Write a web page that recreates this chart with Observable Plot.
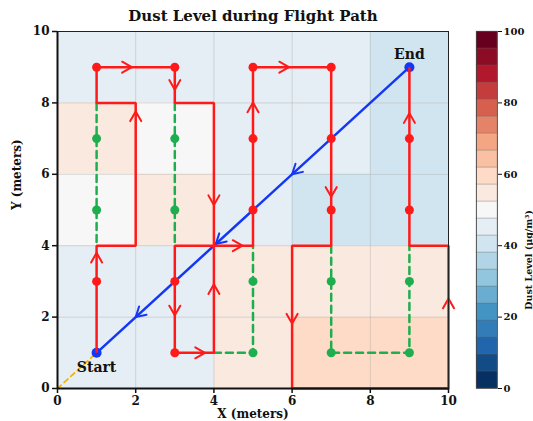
<!DOCTYPE html>
<html>
<head>
<meta charset="utf-8">
<script src="https://cdn.jsdelivr.net/npm/d3@7"></script>
<script src="https://cdn.jsdelivr.net/npm/@observablehq/plot@0.6"></script>
<style>
  body { margin: 0; background: #fff; }
  #chart { position: relative; width: 533px; height: 421px; overflow: hidden; }
  #chart svg { position: absolute; top: 0; }
</style>
</head>
<body>
<div id="chart"></div>
<script>
// ---- Dust map: 2 m × 2 m cells, rows from the top band (y 8–10) to the bottom band (y 0–2)
const cellSize = 2;
const cellX = [0, 2, 4, 6, 8];
const cellY = [8, 6, 4, 2, 0];
const dustLevels = [
  [45, 45, 45, 45, 40],
  [55, 50, 45, 45, 40],
  [50, 55, 45, 40, 40],
  [45, 45, 55, 55, 55],
  [45, 45, 55, 60, 60]
];

// ---- Flown route (red), corner by corner
const flownX = [1, 1, 2, 2, 1, 1, 3, 3, 4, 4, 3, 3, 4, 4, 5, 5, 7, 7, 6, 6, 10, 10, 9, 9];
const flownY = [1, 4, 4, 8, 8, 9, 9, 8, 8, 4, 4, 1, 1, 4, 4, 9, 9, 4, 4, 0, 0, 4, 4, 9];

// waypoints reached along the route
const visitedX = [1, 1, 3, 3, 3, 5, 5, 5, 7, 7, 7, 9, 9];
const visitedY = [3, 9, 9, 3, 1, 5, 7, 9, 9, 7, 5, 5, 7];

// waypoints skipped because of dust, and the planned legs that were bypassed
const skippedX = [1, 1, 3, 3, 5, 5, 7, 7, 9, 9];
const skippedY = [7, 5, 7, 5, 3, 1, 3, 1, 3, 1];
const bypassLeg = [0, 0, 1, 1, 2, 2, 2, 3, 3, 3, 3];
const bypassX = [1, 1, 3, 3, 4, 5, 5, 7, 7, 9, 9];
const bypassY = [8, 4, 8, 4, 1, 1, 4, 4, 1, 1, 4];

// direction markers on the flown route
const flowArrowX = [1, 2, 1.9, 3, 4, 3, 3.77, 4, 4.73, 5, 5.92, 7, 9, 6, 10];
const flowArrowY = [3.8, 7.76, 9, 8.37, 5.14, 2.05, 1, 2.92, 4, 8.01, 9, 5.37, 7.71, 1.82, 2.52];
const flowArrowDir = ["up", "up", "right", "down", "down", "down", "right", "up", "right", "up", "right", "down", "up", "down", "up"];

// straight return leg (blue) and the approach from the origin (dashed)
const returnX = [9, 1];
const returnY = [9, 1];
const returnArrowX = [6, 4.05, 2];
const returnArrowY = [6, 4.05, 2];
const approachX = [0, 1];
const approachY = [0, 1];

const startLabel = {text: "Start", x: 1, y: 0.6};
const endLabel = {text: "End", x: 9, y: 9.35};

const axisTicks = [0, 2, 4, 6, 8, 10];
const dustTicks = [0, 20, 40, 60, 80, 100];
const dustMax = 100;
const nBins = 21;

// ---- colour bins: RdBu reversed, 21 equal steps over 0–100 µg/m³
const rdbu = ["#053061", "#2166ac", "#4393c3", "#92c5de", "#d1e5f0", "#f7f7f7",
              "#fddbc7", "#f4a582", "#d6604d", "#b2182b", "#67001f"];
const ramp = d3.scaleLinear().domain(d3.range(11).map(i => i / 10)).range(rdbu).interpolate(d3.interpolateRgb);
const binWidth = dustMax / nBins;
const binColors = d3.range(nBins).map(i => ramp(i / (nBins - 1)));
const colorScale = {type: "threshold", domain: d3.range(1, nBins).map(i => i * binWidth), range: binColors};

const FONT = "DejaVu Serif";
const RED = "#ff1a1a";
const BLUE = "#1437f5";
const GREEN = "#1fae4f";

// ---- derived tables
const cells = [];
dustLevels.forEach((row, r) => row.forEach((v, c) =>
  cells.push({x1: cellX[c], x2: cellX[c] + cellSize, y1: cellY[r], y2: cellY[r] + cellSize, dust: v})));
const flown = flownX.map((x, i) => ({x, y: flownY[i]}));
const visited = visitedX.map((x, i) => ({x, y: visitedY[i]}));
const skipped = skippedX.map((x, i) => ({x, y: skippedY[i]}));
const bypass = bypassX.map((x, i) => ({x, y: bypassY[i], leg: bypassLeg[i]}));
const returned = returnX.map((x, i) => ({x, y: returnY[i]}));
const approach = approachX.map((x, i) => ({x, y: approachY[i]}));

// frame geometry of the main panel
const mainW = 460, H = 421;
const mL = 57, mR = 12, mT = 31, mB = 33;
const pxPerX = (mainW - mL - mR) / 10, pxPerY = (H - mT - mB) / 10;
const returnAngle = Math.atan2(-pxPerX, -pxPerY) * 180 / Math.PI + 360;

const dirAngle = {up: 0, right: 90, down: 180, left: 270};
const flowArrows = flowArrowX.map((x, i) => ({x, y: flowArrowY[i], rotate: dirAngle[flowArrowDir[i]]}));
const returnArrows = returnArrowX.map((x, i) => ({x, y: returnArrowY[i], rotate: returnAngle}));

// open chevron head drawn at the tip of a vector
const chevron = {
  draw(context, l, r) {
    context.moveTo(-r, -l + r * 1.75);
    context.lineTo(0, -l);
    context.lineTo(r, -l + r * 1.75);
  }
};

const main = Plot.plot({
  width: mainW,
  height: H,
  marginLeft: mL, marginRight: mR, marginTop: mT, marginBottom: mB,
  x: {domain: [0, 10], label: null},
  y: {domain: [0, 10], label: null},
  color: colorScale,
  style: {fontFamily: FONT, fontWeight: "bold", color: "#111", background: "transparent"},
  marks: [
    Plot.rect(cells, {x1: "x1", x2: "x2", y1: "y1", y2: "y2", fill: "dust"}),
    Plot.gridX(axisTicks, {stroke: "#9a9a9a", strokeOpacity: 0.35, strokeWidth: 1}),
    Plot.gridY(axisTicks, {stroke: "#9a9a9a", strokeOpacity: 0.35, strokeWidth: 1}),
    Plot.line(approach, {x: "x", y: "y", stroke: "#f5b400", strokeWidth: 1.8, strokeDasharray: "5,4"}),
    Plot.line(bypass, {x: "x", y: "y", z: "leg", stroke: GREEN, strokeWidth: 2.5, strokeDasharray: "7,5"}),
    Plot.dot(skipped, {x: "x", y: "y", r: 4.5, fill: GREEN}),
    Plot.line(returned, {x: "x", y: "y", stroke: BLUE, strokeWidth: 2.5}),
    Plot.vector(returnArrows, {x: "x", y: "y", rotate: "rotate", length: 10, r: 5.5, anchor: "end",
      shape: chevron, stroke: BLUE, strokeWidth: 2}),
    Plot.dot([returned[0], returned[1]], {x: "x", y: "y", r: 5, fill: BLUE}),
    Plot.line(flown, {x: "x", y: "y", stroke: RED, strokeWidth: 2.5, strokeLinejoin: "miter", strokeLinecap: "butt"}),
    Plot.vector(flowArrows, {x: "x", y: "y", rotate: "rotate", length: 10, r: 5.5, anchor: "end",
      shape: chevron, stroke: RED, strokeWidth: 2}),
    Plot.dot(visited, {x: "x", y: "y", r: 4.5, fill: RED}),
    Plot.text([startLabel, endLabel], {x: "x", y: "y", text: "text", fontSize: 14, fontWeight: "bold",
      fontFamily: FONT, fill: "#111"}),
    Plot.frame({stroke: "#222", strokeWidth: 1}),
    Plot.ruleX([0], {stroke: "#111", strokeWidth: 2}),
    Plot.ruleY([0], {stroke: "#111", strokeWidth: 2}),
    Plot.axisX(axisTicks, {tickSize: 5, tickPadding: 3, fontSize: 12, fontWeight: "bold", strokeWidth: 1.5, label: null}),
    Plot.axisY(axisTicks, {tickSize: 5, tickPadding: 3, fontSize: 12, fontWeight: "bold", strokeWidth: 1.5, label: null}),
    Plot.text(["Dust Level during Flight Path"], {frameAnchor: "top", dy: -15, fontSize: 15, fontWeight: "bold",
      fontFamily: FONT, fill: "#111", lineAnchor: "middle"}),
    Plot.text(["X (meters)"], {frameAnchor: "bottom", dy: 26, fontSize: 12, fontWeight: "bold",
      fontFamily: FONT, fill: "#111", lineAnchor: "middle"}),
    Plot.text(["Y (meters)"], {frameAnchor: "left", dx: -40, rotate: -90, fontSize: 12, fontWeight: "bold",
      fontFamily: FONT, fill: "#111", lineAnchor: "middle"})
  ]
});
main.style.left = "0px";

// ---- colour bar
const bins = d3.range(nBins).map(i => ({lo: i * binWidth, hi: (i + 1) * binWidth}));
const barW = 73;
const bar = Plot.plot({
  width: barW,
  height: H,
  marginLeft: 16, marginRight: 36, marginTop: mT, marginBottom: mB,
  x: {domain: [0, 1], axis: null},
  y: {domain: [0, dustMax], label: null},
  color: colorScale,
  style: {fontFamily: FONT, fontWeight: "bold", color: "#111", background: "transparent"},
  marks: [
    Plot.rect(bins, {x1: 0, x2: 1, y1: "lo", y2: "hi", fill: d => (d.lo + d.hi) / 2,
      stroke: "#666", strokeOpacity: 0.45, strokeWidth: 0.6}),
    Plot.frame({stroke: "#444", strokeWidth: 0.8}),
    Plot.axisY(dustTicks, {anchor: "right", tickSize: 4, tickPadding: 2, fontSize: 10, fontWeight: "bold",
      strokeWidth: 1, label: null}),
    Plot.text(["Dust Level (μg/m³)"], {frameAnchor: "right", dx: 31, rotate: -90, fontSize: 9.5,
      fontWeight: "bold", fontFamily: FONT, fill: "#111", lineAnchor: "middle"})
  ]
});
bar.style.left = mainW + "px";

const chart = document.getElementById("chart");
chart.append(main, bar);
</script>
</body>
</html>
